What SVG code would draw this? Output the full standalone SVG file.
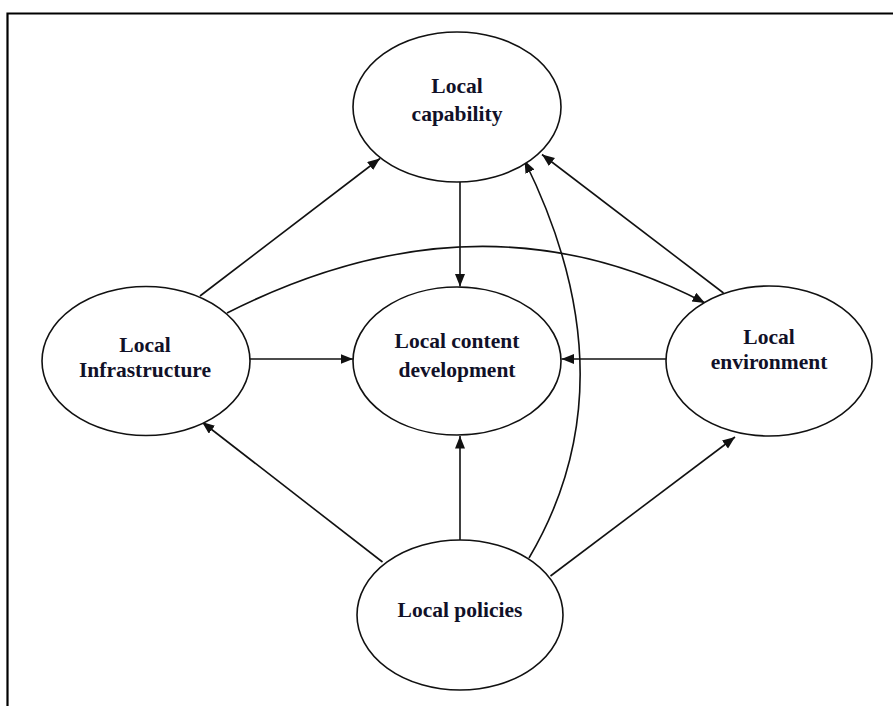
<svg xmlns="http://www.w3.org/2000/svg" width="893" height="706" viewBox="0 0 893 706">
<style>
.node ellipse{fill:#fff;stroke:#111;stroke-width:1.6}
.node text{font-family:"Liberation Serif","Times New Roman",serif;font-weight:bold;font-size:21.5px;fill:#111128;text-anchor:middle}
.edges path,.edges line{fill:none;stroke:#111;stroke-width:1.6;marker-end:url(#arr)}
.frame{fill:none;stroke:#000;stroke-width:2.2}
</style>
<defs>
<marker id="arr" markerUnits="userSpaceOnUse" markerWidth="14" markerHeight="11" refX="12.5" refY="5" orient="auto">
<path d="M0,0 L12.5,5 L0,10 z" fill="#111"/>
</marker>
</defs>
<rect width="893" height="706" fill="#fff"/>
<path class="frame" d="M7.5,706 L7.5,13.5 L893,13.5"/>
<g class="edges">
<line x1="460" y1="182" x2="460" y2="286.5"/>
<line x1="460" y1="541" x2="460" y2="436"/>
<line x1="250" y1="359" x2="353" y2="359"/>
<line x1="666" y1="359" x2="561.5" y2="359"/>
<line x1="200" y1="296" x2="380" y2="158.5"/>
<line x1="723.5" y1="293" x2="542" y2="154.5"/>
<line x1="382.5" y1="562" x2="202" y2="422"/>
<line x1="550.5" y1="576" x2="735" y2="437"/>
<path d="M529,558 Q633.5,381 524.5,160.5"/>
<path d="M227,313 Q480,185 705,303"/>
</g>
<g id="node-capability" class="node">
<ellipse cx="457" cy="107" rx="104" ry="75"/>
<text x="457" y="93">Local</text>
<text x="457" y="121">capability</text>
</g>
<g id="node-infrastructure" class="node">
<ellipse cx="146" cy="361" rx="104" ry="74.5"/>
<text x="145" y="352">Local</text>
<text x="145" y="377">Infrastructure</text>
</g>
<g id="node-content" class="node">
<ellipse cx="457" cy="361" rx="104" ry="74"/>
<text x="457" y="348">Local content</text>
<text x="457" y="376.5">development</text>
</g>
<g id="node-environment" class="node">
<ellipse cx="769" cy="361" rx="103" ry="75"/>
<text x="769" y="344">Local</text>
<text x="769" y="369">environment</text>
</g>
<g id="node-policies" class="node">
<ellipse cx="460" cy="615" rx="103" ry="75"/>
<text x="460" y="617">Local policies</text>
</g>
</svg>
